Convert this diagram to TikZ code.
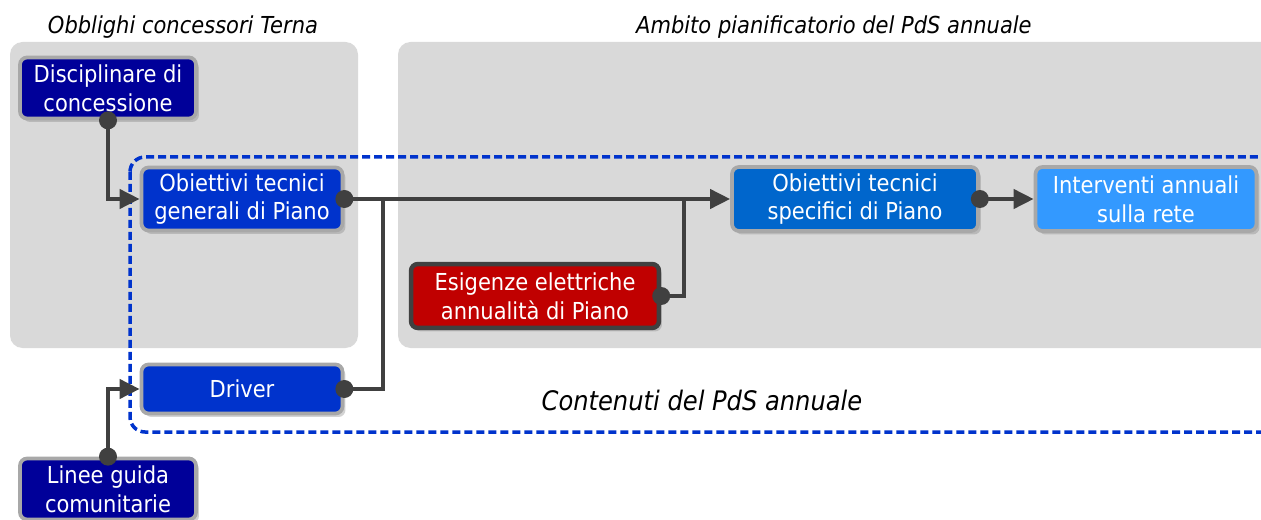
\documentclass[tikz,border=0pt]{standalone}
\usepackage{fontspec}
\setmainfont{DejaVu Sans Condensed}
\usetikzlibrary{arrows.meta,shadows}
\definecolor{navyfill}{HTML}{000099}
\definecolor{bluefill}{HTML}{0033CC}
\definecolor{midfill}{HTML}{0066CC}
\definecolor{lightfill}{HTML}{3399FF}
\definecolor{redfill}{HTML}{C00000}
\definecolor{panelgray}{HTML}{D9D9D9}
\definecolor{rimgray}{HTML}{A8A8A8}
\definecolor{linkgray}{HTML}{404040}
\definecolor{dashblue}{HTML}{0033CC}
\begin{document}
\begin{tikzpicture}[x=0.02cm, y=-0.02cm,
  box/.style={rounded corners=0.14cm, draw=rimgray, line width=0.075cm, text=white,
    align=center, inner sep=0pt, font=\fontsize{13.3}{16.4}\selectfont,
    drop shadow={shadow xshift=0.06cm, shadow yshift=-0.07cm, opacity=0.35}},
  link/.style={draw=linkgray, line width=0.08cm, -{Triangle[length=0.4cm,width=0.38cm]}},
  plain link/.style={draw=linkgray, line width=0.08cm},
  caption/.style={font=\fontsize{13.3}{16}\selectfont\itshape}]
  \useasboundingbox (0,0) rectangle (1261,520);

  % sfondi
  \fill[panelgray, rounded corners=0.25cm] (10,42) rectangle (358,348);
  \fill[panelgray, rounded corners=0.25cm] (398,42) rectangle (1300,348);
  \draw[dashblue, line width=0.07cm, rounded corners=0.3cm, dash pattern=on 0.16cm off 0.08cm]
    (130,157) rectangle (1300,432);

  \node[caption] (tterna) at (183,27) {Obblighi concessori Terna};
  \node[caption] (tambito) at (834,27) {Ambito pianificatorio del PdS annuale};
  \node[caption, font=\fontsize{15.3}{18}\selectfont\itshape] (tcont) at (702,400) {Contenuti del PdS annuale};

  % blocchi
  \node[box, fill=navyfill, minimum width=3.52cm, minimum height=1.22cm] (disc) at (108,88) {Disciplinare di\\concessione};
  \node[box, fill=bluefill, minimum width=4.02cm, minimum height=1.26cm] (gen) at (242,199) {Obiettivi tecnici\\generali di Piano};
  \node[box, fill=bluefill, minimum width=4.02cm, minimum height=0.98cm] (driver) at (242,389) {Driver};
  \node[box, fill=navyfill, minimum width=3.52cm, minimum height=1.22cm] (linee) at (108,489) {Linee guida\\comunitarie};
  \node[box, fill=redfill, draw=linkgray, line width=0.09cm, minimum width=4.96cm, minimum height=1.28cm] (esig) at (535,296) {Esigenze elettriche\\annualità di Piano};
  \node[box, fill=midfill, minimum width=4.92cm, minimum height=1.28cm] (spec) at (855,199) {Obiettivi tecnici\\specifici di Piano};
  \node[box, fill=lightfill, minimum width=4.42cm, minimum height=1.28cm] (interv) at (1146,199) {Interventi annuali\\sulla rete};

  \coordinate (jdriver) at (383,199);
  \coordinate (jesig) at (684,199);

  % collegamenti
  \draw[link] (disc.south) |- (gen.west);
  \draw[link] (linee.north) |- (driver.west);
  \draw[link] (gen.east) -- (spec.west);
  \draw[plain link] (driver.east) -| (jdriver);
  \draw[plain link] (esig.east) -| (jesig);
  \draw[link] (spec.east) -- (interv.west);

  \foreach \p in {disc.south, linee.north, gen.east, driver.east, esig.east, spec.east}
    \fill[linkgray] (\p) circle (0.18cm);
\end{tikzpicture}
\end{document}
